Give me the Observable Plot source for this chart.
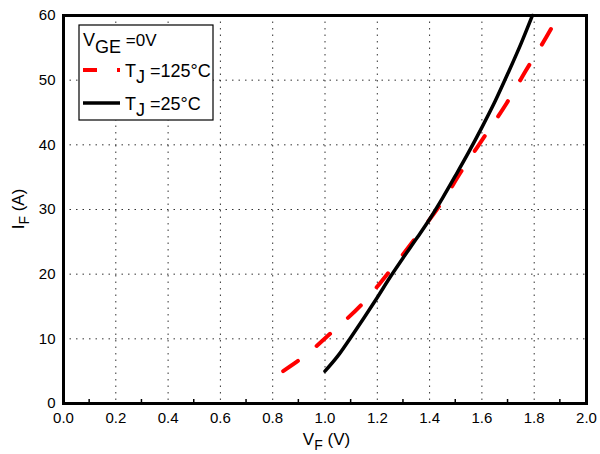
<!DOCTYPE html>
<html>
<head>
<meta charset="utf-8">
<script src="https://cdn.jsdelivr.net/npm/d3@7"></script>
<script src="https://cdn.jsdelivr.net/npm/@observablehq/plot@0.6"></script>
<style>
  html, body { margin: 0; padding: 0; background: #fff; }
  #chart svg { display: block; }
</style>
</head>
<body>
<div id="chart"></div>
<script>
// Forward characteristic, Tj = 25°C (black solid)
const vf25 = [1.00, 1.05, 1.10, 1.15, 1.20, 1.25, 1.30, 1.35, 1.40, 1.45, 1.50, 1.55, 1.60, 1.65, 1.70, 1.75, 1.793];
const if25 = [5.0, 7.4, 10.3, 13.3, 16.4, 19.6, 22.6, 25.5, 28.5, 31.8, 35.3, 38.9, 42.7, 46.7, 51.1, 55.7, 60.0];
// Forward characteristic, Tj = 125°C (red dashed)
const vf125 = [0.84, 0.93, 1.02, 1.147, 1.254, 1.354, 1.445, 1.526, 1.61, 1.694, 1.77, 1.847, 1.893];
const if125 = [5.0, 7.6, 10.8, 15.6, 20.8, 26.0, 31.0, 36.2, 41.3, 46.4, 51.6, 56.7, 60.0];

const xTicks = [0, 0.2, 0.4, 0.6, 0.8, 1.0, 1.2, 1.4, 1.6, 1.8, 2.0];
const yTicks = [0, 10, 20, 30, 40, 50, 60];
const xMinor = [0.1, 0.3, 0.5, 0.7, 0.9, 1.1, 1.3, 1.5, 1.7, 1.9];

const legendItems = [
  {sub: "J", label: " =125°C", color: "#ff0000", dash: "14,20"},
  {sub: "J", label: " =25°C", color: "#000000", dash: null}
];

const d25 = vf25.map((v, i) => ({v, i: if25[i]}));
const d125 = vf125.map((v, i) => ({v, i: if125[i]}));

const FONT = "'Liberation Sans', Arial, Helvetica, sans-serif";

const chart = Plot.plot({
  width: 600,
  height: 454,
  marginLeft: 63,
  marginRight: 14,
  marginTop: 15,
  marginBottom: 51,
  style: {fontFamily: FONT, fontSize: "15px", color: "#000", background: "#fff"},
  x: {domain: [0, 2], ticks: xTicks, tickFormat: d3.format(".1f")},
  y: {domain: [0, 60], ticks: yTicks},
  marks: [
    Plot.gridX(xTicks.slice(1, -1), {stroke: "#000", strokeOpacity: 0.8, strokeDasharray: "1.5,5", strokeWidth: 1}),
    Plot.gridY(yTicks.slice(1, -1), {stroke: "#000", strokeOpacity: 0.8, strokeDasharray: "1.5,5", strokeWidth: 1}),
    Plot.axisX({ticks: xTicks, tickSize: 0, tickPadding: 9, tickFormat: d3.format(".1f"), label: null, fontSize: 15}),
    Plot.axisY({ticks: yTicks, tickSize: 0, tickPadding: 8, label: null, fontSize: 15}),
    Plot.line(d125, {x: "v", y: "i", stroke: "#ff0000", strokeWidth: 4, strokeDasharray: "18,24", curve: "monotone-x"}),
    Plot.line(d25, {x: "v", y: "i", stroke: "#000", strokeWidth: 3.5, curve: "monotone-x"}),
    Plot.frame({stroke: "#000", strokeWidth: 3})
  ]
});

const svg = d3.select(chart);
const sx = chart.scale("x"), sy = chart.scale("y");

// minor ticks on bottom frame
const yb = sy.apply(0);
svg.append("g").selectAll("line").data(xMinor).join("line")
  .attr("x1", d => sx.apply(d)).attr("x2", d => sx.apply(d))
  .attr("y1", yb).attr("y2", yb - 4)
  .attr("stroke", "#000").attr("stroke-width", 1.5);

// axis labels with subscripts
const xl = svg.append("text")
  .attr("x", (sx.apply(0) + sx.apply(2)) / 2 + 2)
  .attr("y", 445)
  .attr("text-anchor", "middle")
  .attr("font-family", FONT).attr("font-size", 17).attr("fill", "#000");
xl.append("tspan").text("V");
xl.append("tspan").attr("dy", 5).attr("font-size", 14).text("F");
xl.append("tspan").attr("dy", -5).text(" (V)");

const yl = svg.append("text")
  .attr("transform", `translate(24,${(sy.apply(0) + sy.apply(60)) / 2}) rotate(-90)`)
  .attr("text-anchor", "middle")
  .attr("font-family", FONT).attr("font-size", 17).attr("fill", "#000");
yl.append("tspan").text("I");
yl.append("tspan").attr("dy", 5).attr("font-size", 14).text("F");
yl.append("tspan").attr("dy", -5).text(" (A)");

// legend box
const lg = svg.append("g").attr("text-anchor", "start");
lg.append("rect").attr("x", 79).attr("y", 25).attr("width", 134).attr("height", 95)
  .attr("fill", "#fff").attr("stroke", "#000").attr("stroke-width", 1.2);
const t0 = lg.append("text").attr("x", 83).attr("y", 46).attr("text-anchor", "start")
  .attr("font-family", FONT).attr("font-size", 18).attr("fill", "#000");
t0.append("tspan").text("V");
t0.append("tspan").attr("dy", 7).text("GE");
t0.append("tspan").attr("dy", -7).attr("font-size", 17).text(" =0V");

legendItems.forEach((d, k) => {
  const yy = 70 + k * 33;
  lg.append("line").attr("x1", 83).attr("x2", 120).attr("y1", yy).attr("y2", yy)
    .attr("stroke", d.color).attr("stroke-width", d.dash ? 4 : 3.5)
    .attr("stroke-dasharray", d.dash);
  const t = lg.append("text").attr("x", 125).attr("y", yy + 7).attr("text-anchor", "start")
    .attr("font-family", FONT).attr("font-size", 18).attr("fill", "#000");
  t.append("tspan").text("T");
  t.append("tspan").attr("dy", 6).text(d.sub);
  t.append("tspan").attr("dy", -6).text(d.label);
});

document.getElementById("chart").appendChild(chart);
</script>
</body>
</html>
